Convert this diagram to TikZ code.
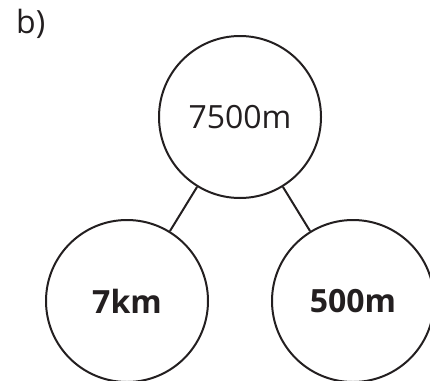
\documentclass[tikz,border=0pt]{standalone}
\usepackage{fontspec}
\setmainfont{Open Sans}
\definecolor{ink}{HTML}{231F20}
\begin{document}
\begin{tikzpicture}[x=1pt,y=-1pt,
  bubble/.style={circle,draw=ink,line width=2pt,minimum size=162pt,inner sep=0pt,text=ink,font=\fontsize{32}{36}\selectfont},
  bold/.style={font=\fontsize{32}{36}\selectfont\bfseries},
  link/.style={draw=ink,line width=2pt}]
\useasboundingbox (0,0) rectangle (430,380);
\node[anchor=north west,text=ink,font=\fontsize{32}{36}\selectfont,inner sep=0pt] (lbl) at (16,9) {b)};
\node[bubble] (top) at (240,117) {7500m};
\node[bubble,bold] (left) at (127,301) {7km};
\node[bubble,bold] (right) at (353,301) {500m};
\draw[link] (top) -- (left);
\draw[link] (top) -- (right);
\end{tikzpicture}
\end{document}
